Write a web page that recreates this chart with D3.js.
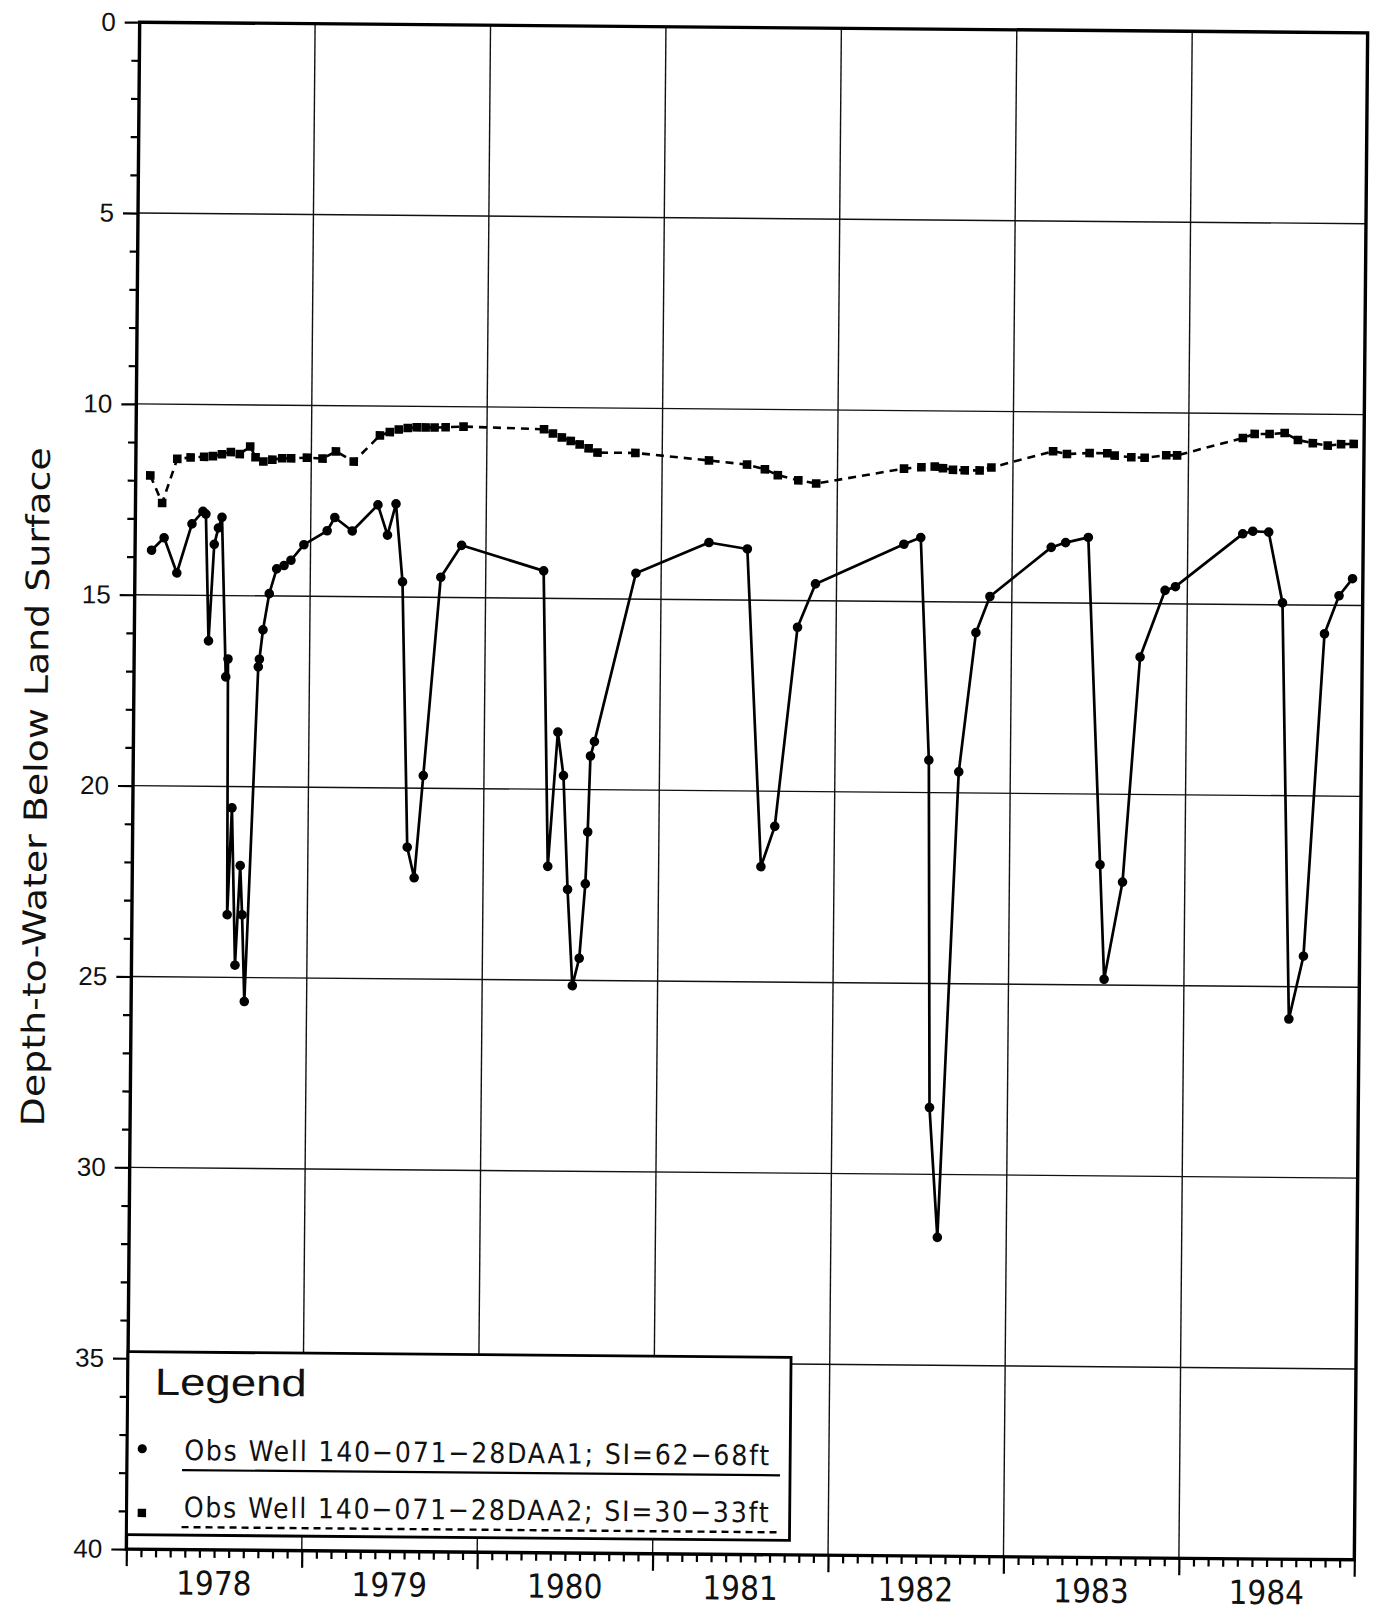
<!DOCTYPE html>
<html><head><meta charset="utf-8">
<script src="https://cdn.jsdelivr.net/npm/d3@7/dist/d3.min.js"></script>
<style>html,body{margin:0;padding:0;background:#fff;} svg{display:block}</style>
</head><body><svg id="c" width="1377" height="1614"></svg>
<script>
// ---------------- data ----------------
const yearLabels = ["1978","1979","1980","1981","1982","1983","1984"];
const yearStarts = [1978,1979,1980,1981,1982,1983,1984,1985];
const depthTicks = [0,5,10,15,20,25,30,35,40];
const yAxisTitle = "Depth-to-Water Below Land Surface";
const legendTitle = "Legend";
const legendLabels = ["Obs Well 140\u2212071\u221228DAA1; SI=62\u221268ft",
                      "Obs Well 140\u2212071\u221228DAA2; SI=30\u221233ft"];

// Obs Well 140-071-28DAA1 (deep, solid line, dots)
const deepDates = [1978.094,1978.165,1978.239,1978.323,1978.385,1978.402,1978.423,1978.451,1978.474,1978.494,
  1978.523,1978.535,1978.543,1978.565,1978.590,1978.615,1978.628,1978.645,1978.708,1978.714,
  1978.733,1978.767,1978.808,1978.850,1978.889,1978.962,1979.094,1979.137,1979.237,1979.382,
  1979.438,1979.485,1979.526,1979.566,1979.607,1979.654,1979.744,1979.861,1980.330,1980.368,
  1980.419,1980.453,1980.482,1980.514,1980.552,1980.583,1980.594,1980.606,1980.628,1980.856,
  1981.271,1981.490,1981.583,1981.660,1981.780,1981.880,1982.382,1982.478,1982.535,1982.556,
  1982.607,1982.706,1982.797,1982.875,1983.222,1983.304,1983.433,1983.516,1983.545,1983.645,
  1983.734,1983.873,1983.932,1984.313,1984.370,1984.461,1984.543,1984.600,1984.680,1984.784,
  1984.865,1984.941];
const deepDepths = [13.83,13.50,14.42,13.13,12.80,12.87,16.19,13.66,13.23,12.95,
  17.13,16.66,23.36,20.56,24.68,22.07,23.36,25.63,16.86,16.66,
  15.89,14.94,14.29,14.20,14.06,13.65,13.28,12.93,13.28,12.59,
  13.38,12.56,14.60,21.55,22.35,19.67,14.47,13.63,14.28,22.02,
  18.50,19.64,22.62,25.14,24.42,22.47,21.11,19.12,18.74,14.32,
  13.50,13.66,21.98,20.92,15.70,14.56,13.50,13.32,19.15,28.25,
  31.65,19.45,15.80,14.85,13.55,13.42,13.28,21.85,24.85,22.30,
  16.40,14.65,14.55,13.15,13.08,13.10,14.95,25.85,24.20,15.75,
  14.75,14.30];

// Obs Well 140-071-28DAA2 (shallow, dashed line, squares)
const shallowDates = [1978.083,1978.152,1978.236,1978.312,1978.389,1978.439,1978.490,1978.541,1978.592,1978.651,
  1978.682,1978.727,1978.778,1978.834,1978.885,1978.975,1979.064,1979.140,1979.242,1979.390,
  1979.446,1979.497,1979.548,1979.599,1979.650,1979.701,1979.764,1979.866,1980.325,1980.376,
  1980.427,1980.478,1980.529,1980.580,1980.631,1980.847,1981.267,1981.484,1981.586,1981.660,
  1981.777,1981.879,1982.379,1982.478,1982.554,1982.601,1982.658,1982.725,1982.810,1982.877,
  1983.228,1983.307,1983.436,1983.537,1983.579,1983.674,1983.750,1983.873,1983.935,1984.309,
  1984.376,1984.461,1984.547,1984.623,1984.708,1984.793,1984.869,1984.941];
const shallowDepths = [11.87,12.59,11.43,11.39,11.37,11.35,11.30,11.24,11.29,11.09,
  11.37,11.48,11.43,11.39,11.39,11.37,11.39,11.20,11.46,10.77,
  10.68,10.61,10.57,10.55,10.55,10.55,10.54,10.52,10.57,10.68,
  10.78,10.87,10.96,11.06,11.17,11.17,11.35,11.45,11.57,11.72,
  11.85,11.93,11.52,11.48,11.46,11.50,11.54,11.55,11.55,11.47,
  11.03,11.10,11.07,11.07,11.13,11.17,11.18,11.11,11.11,10.64,
  10.53,10.53,10.50,10.68,10.76,10.82,10.78,10.77];

// ---------------- layout ----------------
const L = 133, R = 1361, T = 27.5, B = 1554.5;
const svg = d3.select("#c");
svg.append("rect").attr("width",1377).attr("height",1614).attr("fill","#fff");
const root = svg.append("g").attr("transform","rotate(0.5,747,791)");

const x = d3.scaleLinear().domain([1978,1985]).range([L,R]);
const y = d3.scaleLinear().domain([0,40]).range([T,B]);

const numFont = "'Liberation Sans Narrow','DejaVu Sans Condensed',sans-serif";

// grid
const grid = root.append("g").attr("stroke","#111").attr("stroke-width",1.4);
grid.selectAll("line.v").data(yearStarts.slice(1,-1)).join("line")
  .attr("x1",d=>x(d)).attr("x2",d=>x(d)).attr("y1",T).attr("y2",B);
grid.selectAll("line.h").data(depthTicks.slice(1,-1)).join("line")
  .attr("x1",L).attr("x2",R).attr("y1",d=>y(d)).attr("y2",d=>y(d));

// y axis (major + minor)
const yMajor = root.append("g").attr("transform",`translate(${L},0)`)
  .call(d3.axisLeft(y).tickValues(depthTicks).tickSize(15).tickPadding(9).tickFormat(d=>d));
const yMinor = root.append("g").attr("transform",`translate(${L},0)`)
  .call(d3.axisLeft(y).tickValues(d3.range(0,41).filter(d=>d%5!==0)).tickSize(8).tickFormat(""));
[yMajor,yMinor].forEach(g=>{g.select(".domain").remove();g.selectAll(".tick line").attr("stroke","#000").attr("stroke-width",2.2);});
yMajor.selectAll(".tick text").attr("font-family","'Liberation Sans',Arial,sans-serif").attr("font-size",26).attr("fill","#111");

// x axis (year + month ticks)
const xMajor = root.append("g").attr("transform",`translate(0,${B})`)
  .call(d3.axisBottom(x).tickValues(yearStarts).tickSize(17).tickFormat(""));
const monthTicks = d3.range(0,84).filter(i=>i%12!==0).map(i=>1978+i/12);
const xMinor = root.append("g").attr("transform",`translate(0,${B})`)
  .call(d3.axisBottom(x).tickValues(monthTicks).tickSize(8).tickFormat(""));
[xMajor,xMinor].forEach(g=>{g.select(".domain").remove();g.selectAll(".tick line").attr("stroke","#000").attr("stroke-width",2.2);});
root.append("g").selectAll("text").data(yearLabels).join("text")
  .attr("x",(d,i)=>x(yearStarts[i]+0.5)).attr("y",B+45)
  .attr("text-anchor","middle").attr("font-family",numFont).attr("font-size",33).attr("fill","#111")
  .text(d=>d);

// frame
root.append("rect").attr("x",L).attr("y",T).attr("width",R-L).attr("height",B-T)
  .attr("fill","none").attr("stroke","#000").attr("stroke-width",3.4);

// y title
root.append("text").attr("transform","translate(47,793) rotate(-90)")
  .attr("text-anchor","middle").attr("font-family","'DejaVu Sans',sans-serif").attr("font-size",32)
  .attr("textLength",679).attr("lengthAdjust","spacingAndGlyphs").attr("fill","#111").text(yAxisTitle);

// series
const deep = d3.zip(deepDates,deepDepths);
const shallow = d3.zip(shallowDates,shallowDepths);
const line = d3.line().x(d=>x(d[0])).y(d=>y(d[1]));

root.append("path").datum(shallow).attr("d",line).attr("fill","none")
  .attr("stroke","#000").attr("stroke-width",2.6).attr("stroke-dasharray","8,6");
root.append("g").selectAll("rect").data(shallow).join("rect")
  .attr("x",d=>x(d[0])-4.3).attr("y",d=>y(d[1])-4.3).attr("width",8.6).attr("height",8.6).attr("fill","#000");

root.append("path").datum(deep).attr("d",line).attr("fill","none")
  .attr("stroke","#000").attr("stroke-width",2.7).attr("stroke-linejoin","round");
root.append("g").selectAll("circle").data(deep).join("circle")
  .attr("cx",d=>x(d[0])).attr("cy",d=>y(d[1])).attr("r",4.8).attr("fill","#000");

// legend
const lg = root.append("g");
lg.append("rect").attr("x",L).attr("y",1357).attr("width",663).attr("height",183)
  .attr("fill","#fff").attr("stroke","#000").attr("stroke-width",2.8);
lg.append("text").attr("x",160).attr("y",1400).attr("font-family","'Liberation Sans',Arial,sans-serif")
  .attr("font-size",38).attr("textLength",152).attr("lengthAdjust","spacingAndGlyphs").attr("fill","#111").text(legendTitle);
lg.append("circle").attr("cx",148).attr("cy",1454).attr("r",4.6).attr("fill","#000");
lg.append("rect").attr("x",144).attr("y",1514).attr("width",8.4).attr("height",8.4).attr("fill","#000");
lg.append("text").attr("x",190).attr("y",1465).attr("font-family",numFont).attr("font-size",28)
  .attr("textLength",585).attr("lengthAdjust","spacing").attr("fill","#111").text(legendLabels[0]);
lg.append("text").attr("x",190).attr("y",1522).attr("font-family",numFont).attr("font-size",28)
  .attr("textLength",585).attr("lengthAdjust","spacing").attr("fill","#111").text(legendLabels[1]);
lg.append("line").attr("x1",188).attr("x2",786).attr("y1",1475).attr("y2",1475).attr("stroke","#000").attr("stroke-width",2.2);
lg.append("line").attr("x1",188).attr("x2",786).attr("y1",1532).attr("y2",1532).attr("stroke","#000").attr("stroke-width",2.4).attr("stroke-dasharray","7,5");
</script></body></html>
